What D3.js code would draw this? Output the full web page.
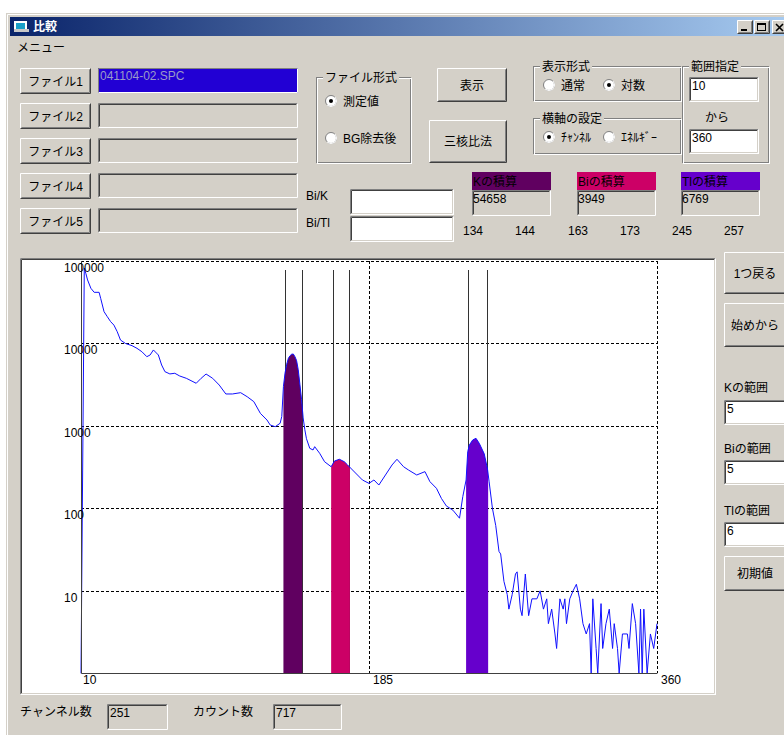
<!DOCTYPE html>
<html>
<head>
<meta charset="utf-8">
<script src="https://cdn.jsdelivr.net/npm/d3@7"></script>
<style>
  body { margin: 0; background: #fff; }
  svg { display: block; font-family: "Liberation Sans", "Noto Sans CJK JP", sans-serif; font-size: 12px; }
</style>
</head>
<body>
<svg id="win" width="784" height="735"></svg>
<script>
// ---- data ----
// spectrum: [channel, counts]
var spectrum = [[10,0],[11,284],[12,82000],[13,70000],[14,58900],[16,46700],[18,41700],[21,41700],[22,35000],
  [24,24300],[26,21100],[28,18400],[30,16700],[32,13900],[34,11000],[37,10000],[41,9400],[44,8730],[47,7940],
  [50,6910],[52,7250],[54,8340],[57,7250],[59,5480],[61,4550],[64,4270],[67,4350],[70,4030],[74,3780],[80,3290],
  [83,3780],[86,4260],[90,3780],[94,3130],[98,2440],[102,2440],[107,2530],[111,2260],[115,1970],[119,1420],
  [123,1180],[125,1025],[128,979],[131,1077],[132,1300],[133,3000],[134,4400],[135,5600],[136,6600],[137,7100],
  [138,7400],[139,7450],[140,6910],[141,6200],[142,4800],[143,3200],[144,2100],[145,1250],[146,900],[147,700],
  [149,535],[151,511],[152,560],[155,466],[158,368],[162,320],[164,375],[167,394],[170,368],[172,336],[175,292],
  [181,221],[185,201],[188,221],[191,192],[195,254],[199,336],[202,394],[206,320],[209,292],[214,254],[219,279],
  [222,211],[226,175],[229,132],[232,107],[236,95],[240,76],[242,139],[244,221],[245,487],[246,587],[248,675],
  [250,708],[252,615],[255,460],[257,300],[258,210],[260,100],[262,62],[264,30],[265,28],[267,13],[269,9],[270,6],
  [272,9],[274,16],[275,17],[277,6],[278,5],[280,16],[282,5],[284,8],[287,8],[289,10],[291,6],[293,8],[294,4],
  [296,6],[298,3],[299,2],[301,8],[303,6],[304,8],[305,4],[307,8],[309,10],[311,12],[313,8],[315,4],[317,3],
  [319,4],[320,0],[321,8],[323,2],[324,0],[326,7],[327,2],[329,4],[331,6],[333,2],[334,4],[336,2],[337,0],
  [339,3],[342,3],[343,2],[345,7],[347,4],[349,0],[350,6],[351,1],[352,6],[354,0],[356,3],[358,2],[360,4]];

var yTicks = [10, 100, 1000, 10000, 100000];
var yTickLabels = ["10", "100", "1000", "10000", "100000"];
var xTicks = [10, 185, 360];

var roiNames = ["K", "Bi", "Tl"];
var roiLo = [134, 163, 245];
var roiHi = [144, 173, 257];
var roiSums = [54658, 3949, 6769];
var roiRanges = [5, 5, 6];
var roiColors = ["#600060", "#cc0066", "#6600cc"];

var fileNames = ["041104-02.SPC", "", "", "", ""];
var rangeFrom = 10, rangeTo = 360;
var channelCount = 251, countValue = 717;

// ---- helpers ----
var face = "#d4d0c8";
var svg = d3.select("#win");

function edge(x, y, w, h, tl, br) {
  svg.append("path").attr("d", "M" + (x + 0.5) + "," + (y + h - 0.5) + "V" + (y + 0.5) + "H" + (x + w - 0.5))
    .attr("stroke", tl).attr("fill", "none");
  svg.append("path").attr("d", "M" + (x + 0.5) + "," + (y + h - 0.5) + "H" + (x + w - 0.5) + "V" + (y + 0.5))
    .attr("stroke", br).attr("fill", "none");
}
function text(x, y, s, opts) {
  opts = opts || {};
  return svg.append("text").attr("x", x).attr("y", y).text(s)
    .attr("fill", opts.fill || "#000")
    .attr("text-anchor", opts.anchor || "start")
    .style("font-size", opts.size || "12px")
    .style("font-weight", opts.weight || "normal");
}
function button(x, y, w, h, label) {
  svg.append("rect").attr("x", x).attr("y", y).attr("width", w).attr("height", h).attr("fill", face);
  edge(x, y, w, h, "#fff", "#404040");
  edge(x + 1, y + 1, w - 2, h - 2, face, "#808080");
  text(x + w / 2, y + h / 2 + 4.5, label, { anchor: "middle" });
}
function sunken(x, y, w, h, fill, value) {
  svg.append("rect").attr("x", x).attr("y", y).attr("width", w).attr("height", h).attr("fill", fill);
  edge(x, y, w, h, "#808080", "#fff");
  edge(x + 1, y + 1, w - 2, h - 2, "#404040", face);
  if (value !== undefined && value !== "") text(x + 3, y + 13, value);
}
// etched group frame; y is the frame's top line
function group(x, y, w, h, label) {
  svg.append("rect").attr("x", x + 0.5).attr("y", y + 0.5).attr("width", w - 2).attr("height", h - 2)
    .attr("fill", "none").attr("stroke", "#808080");
  svg.append("rect").attr("x", x + 1.5).attr("y", y + 1.5).attr("width", w - 2).attr("height", h - 2)
    .attr("fill", "none").attr("stroke", "#fff");
  var bg = svg.append("rect").attr("fill", face);
  var t = text(x + 9, y + 5, label);
  var len = t.node().getComputedTextLength();
  bg.attr("x", x + 7).attr("y", y - 6).attr("width", len + 4).attr("height", 12);
}
function radio(cx, cy, checked, label) {
  svg.append("circle").attr("cx", cx).attr("cy", cy).attr("r", 5.5).attr("fill", "#fff")
    .attr("stroke", "#808080");
  svg.append("path").attr("d", d3.arc()({ innerRadius: 5, outerRadius: 6, startAngle: Math.PI * 0.25, endAngle: Math.PI * 1.25 }))
    .attr("transform", "translate(" + cx + "," + cy + ")").attr("fill", "#fff");
  if (checked) svg.append("circle").attr("cx", cx).attr("cy", cy).attr("r", 2).attr("fill", "#000");
  text(cx + 12, cy + 5, label);
}

// ---- window frame ----
svg.append("rect").attr("x", 6).attr("y", 13).attr("width", 790).attr("height", 730).attr("fill", face);
edge(7, 14, 790, 730, "#fff", face);

var grad = svg.append("defs").append("linearGradient").attr("id", "title")
  .attr("x1", "0%").attr("x2", "100%");
grad.append("stop").attr("offset", "0%").attr("stop-color", "#0a246a");
grad.append("stop").attr("offset", "100%").attr("stop-color", "#a6caf0");
svg.append("rect").attr("x", 10).attr("y", 17).attr("width", 774).attr("height", 19).attr("fill", "url(#title)");

// title icon
svg.append("rect").attr("x", 14).attr("y", 21).attr("width", 13).attr("height", 10).attr("fill", "#fff");
svg.append("rect").attr("x", 16).attr("y", 23).attr("width", 9).attr("height", 6).attr("fill", "#1aa0c8");
svg.append("rect").attr("x", 14).attr("y", 29).attr("width", 15).attr("height", 3).attr("fill", "#c8c8c8");
text(33, 31, "比較", { fill: "#fff", weight: "bold" });

// caption buttons
[737, 754, 772].forEach(function (bx, i) {
  svg.append("rect").attr("x", bx).attr("y", 20).attr("width", 16).attr("height", 14).attr("fill", face);
  edge(bx, 20, 16, 14, "#fff", "#404040");
  edge(bx + 1, 21, 14, 12, face, "#808080");
  if (i === 0) svg.append("rect").attr("x", bx + 4).attr("y", 29).attr("width", 6).attr("height", 2).attr("fill", "#000");
  if (i === 1) {
    svg.append("rect").attr("x", bx + 3.5).attr("y", 23.5).attr("width", 8).attr("height", 7).attr("fill", "none").attr("stroke", "#000");
    svg.append("rect").attr("x", bx + 3).attr("y", 23).attr("width", 9).attr("height", 2).attr("fill", "#000");
  }
  if (i === 2) svg.append("path").attr("d", "M" + (bx + 4) + ",24L" + (bx + 11) + ",31M" + (bx + 11) + ",24L" + (bx + 4) + ",31")
    .attr("stroke", "#000").attr("stroke-width", 1.6);
});

text(17, 52, "メニュー");

// ---- file buttons and name boxes ----
fileNames.forEach(function (name, i) {
  var y = 68 + i * 35;
  button(20, y, 71, 26, "ファイル" + (i + 1));
  if (i === 0) {
    svg.append("rect").attr("x", 98).attr("y", y).attr("width", 200).attr("height", 25).attr("fill", "#2200d4");
    edge(98, y, 200, 25, "#808080", "#fff");
    text(100, y + 12, name, { fill: "#9a9ac8" });
  } else {
    sunken(98, y, 200, 25, face, name);
  }
});

// ファイル形式
group(316, 77, 96, 87, "ファイル形式");
radio(331, 101, true, "測定値");
radio(331, 138, false, "BG除去後");

button(437, 68, 70, 34, "表示");
button(429, 120, 78, 43, "三核比法");

group(533, 66, 149, 36, "表示形式");
radio(549, 85, false, "通常");
radio(609, 85, true, "対数");

group(533, 118, 149, 37, "横軸の設定");
radio(549, 137, true, "ﾁｬﾝﾈﾙ");
radio(609, 137, false, "ｴﾈﾙｷﾞｰ");

group(682, 66, 88, 98, "範囲指定");
sunken(689, 77, 70, 25, "#fff", String(rangeFrom));
text(717, 122, "から", { anchor: "middle" });
sunken(689, 129, 70, 25, "#fff", String(rangeTo));

// ratios
text(306, 200, "Bi/K");
sunken(350, 189, 104, 26, "#fff", "");
text(306, 227, "Bi/Tl");
sunken(350, 216, 104, 26, "#fff", "");

// ROI sums and boundaries
var sumX = [472, 577, 681];
roiNames.forEach(function (n, i) {
  var x = sumX[i];
  svg.append("rect").attr("x", x).attr("y", 172).attr("width", 79).attr("height", 18).attr("fill", roiColors[i]);
  text(x + 1, 186, n + "の積算");
  sunken(x, 190, 79, 26, face, "");
  text(x + 1, 203, String(roiSums[i]));
  text(x - 9, 235, String(roiLo[i]));
  text(x + 43, 235, String(roiHi[i]));
});

// ---- chart picture box ----
sunken(20, 258, 696, 437, "#fff", "");

var xScale = d3.scaleLinear().domain([10, 360]).range([81, 657]);
var yScale = d3.scaleLog().domain([1, 100000]).range([673.3, 261]).clamp(true);
var yOf = function (v) { return yScale(Math.max(v, 1)); };
var chart = svg.append("g");

// dashed grid
chart.selectAll(".hgrid").data(yTicks).enter().append("line")
  .attr("x1", xScale(10)).attr("x2", xScale(360))
  .attr("y1", function (d) { return Math.round(yScale(d)) + 0.5; })
  .attr("y2", function (d) { return Math.round(yScale(d)) + 0.5; })
  .attr("stroke", "#000").attr("stroke-dasharray", "3,2");
chart.selectAll(".vgrid").data(xTicks.slice(1)).enter().append("line")
  .attr("x1", function (d) { return Math.round(xScale(d)) + 0.5; })
  .attr("x2", function (d) { return Math.round(xScale(d)) + 0.5; })
  .attr("y1", yScale(100000)).attr("y2", yScale(1))
  .attr("stroke", "#000").attr("stroke-dasharray", "3,2");

// ROI marker lines
roiNames.forEach(function (n, i) {
  [roiLo[i], roiHi[i]].forEach(function (c) {
    chart.append("line")
      .attr("x1", Math.round(xScale(c)) + 0.5).attr("x2", Math.round(xScale(c)) + 0.5)
      .attr("y1", 270).attr("y2", yScale(1))
      .attr("stroke", "#333");
  });
});

// ROI fills under the spectrum
var defs = svg.select("defs");
var area = d3.area()
  .x(function (d) { return xScale(d[0]); })
  .y0(yScale(1))
  .y1(function (d) { return yOf(d[1]); });
roiNames.forEach(function (n, i) {
  var x0 = xScale(roiLo[i] - 1), x1 = xScale(roiHi[i] + 0.4);
  defs.append("clipPath").attr("id", "clip" + n).append("rect")
    .attr("x", x0).attr("y", 250).attr("width", x1 - x0).attr("height", 430);
  chart.append("path").datum(spectrum).attr("d", area)
    .attr("fill", roiColors[i]).attr("clip-path", "url(#clip" + n + ")");
});

// spectrum line
var line = d3.line()
  .x(function (d) { return xScale(d[0]); })
  .y(function (d) { return yOf(d[1]); });
chart.append("path").datum(spectrum).attr("d", line)
  .attr("fill", "none").attr("stroke", "#1010ff").attr("stroke-width", 1);

// axes
chart.append("path")
  .attr("d", "M" + (xScale(10) + 0.5) + "," + yScale(100000) + "V" + (Math.round(yScale(1)) + 0.5) + "H" + xScale(360))
  .attr("fill", "none").attr("stroke", "#404040");

chart.selectAll(".ylab").data(yTicks).enter().append("text")
  .attr("x", 64).attr("y", function (d) { return yScale(d) + 11; })
  .text(function (d, i) { return yTickLabels[i]; })
  .style("font-size", "12px").attr("fill", "#000");
chart.selectAll(".xlab").data(xTicks).enter().append("text")
  .attr("x", function (d, i) { return xScale(d) + (i === 0 ? 2 : 4); })
  .attr("y", 684)
  .text(function (d) { return d; })
  .style("font-size", "12px").attr("fill", "#000");

// ---- right panel ----
button(724, 252, 62, 42, "1つ戻る");
button(724, 303, 62, 44, "始めから");
var rangeLabelY = [392, 453, 515];
var rangeBoxY = [400, 460, 522];
roiNames.forEach(function (n, i) {
  text(724, rangeLabelY[i], n + "の範囲");
  sunken(724, rangeBoxY[i], 62, 25, "#fff", String(roiRanges[i]));
});
button(724, 556, 62, 35, "初期値");

// ---- bottom status ----
text(20, 716, "チャンネル数");
sunken(107, 704, 61, 26, face, String(channelCount));
text(193, 716, "カウント数");
sunken(273, 704, 69, 26, face, String(countValue));
</script>
</body>
</html>
